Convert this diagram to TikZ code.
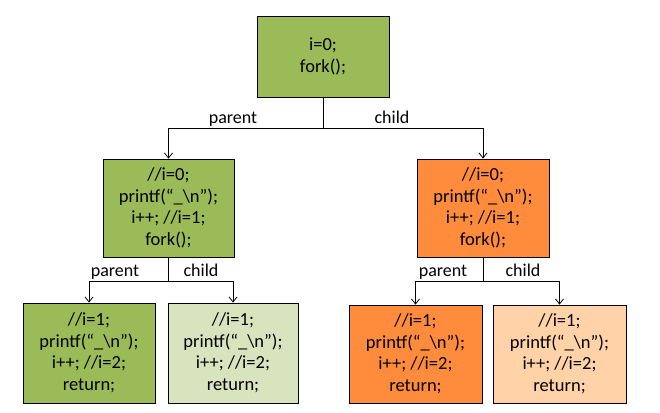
\documentclass[tikz,border=0pt]{standalone}
\usepackage{fontspec}
\setmainfont{Carlito}
\usetikzlibrary{arrows.meta}
\definecolor{grn}{HTML}{9BBB59}
\definecolor{lgrn}{HTML}{D7E4BD}
\definecolor{org}{HTML}{FF8C3C}
\definecolor{lorg}{HTML}{FFD2A8}
\tikzset{
  box/.style={draw=black, line width=0.8pt, rectangle, align=center,
    font=\fontsize{18.5}{21.5}\selectfont, inner sep=0pt},
  arr/.style={draw=black, line width=0.8pt, -{Straight Barb[length=5pt,width=8pt]}},
  lbl/.style={font=\fontsize{18}{20}\selectfont, inner sep=0pt, anchor=base}
}
\newcommand{\prn}{printf(“\_\textbackslash n”);}
\begin{document}
\begin{tikzpicture}[x=1pt,y=-1pt]
\useasboundingbox[fill=white] (0,0) rectangle (660,412);
% process boxes
\node[box, fill=grn, minimum width=132pt, minimum height=81pt] (top) at (323,56.5) {i=0;\\fork();};
\node[box, fill=grn, minimum width=131pt, minimum height=98pt] (ml) at (168.5,208) {//i=0;\\\prn\\i++; //i=1;\\fork();};
\node[box, fill=org, minimum width=132pt, minimum height=98pt] (mr) at (483,208) {//i=0;\\\prn\\i++; //i=1;\\fork();};
\node[box, fill=grn, minimum width=132pt, minimum height=100pt] (b1) at (89,353) {//i=1;\\\prn\\i++; //i=2;\\return;};
\node[box, fill=lgrn, minimum width=130pt, minimum height=100pt] (b2) at (233,353) {//i=1;\\\prn\\i++; //i=2;\\return;};
\node[box, fill=org, minimum width=133pt, minimum height=98pt] (b3) at (415.5,354) {//i=1;\\\prn\\i++; //i=2;\\return;};
\node[box, fill=lorg, minimum width=133pt, minimum height=98pt] (b4) at (559.5,354) {//i=1;\\\prn\\i++; //i=2;\\return;};
% fork branches
\coordinate (s1) at (323,128);
\coordinate (s2) at (168.5,281);
\coordinate (s3) at (483,281);
\draw[arr] (top.south) -- (s1) -| (ml.north);
\draw[arr] (s1) -| (mr.north);
\draw[arr] (ml.south) -- (s2) -| (b1.north);
\draw[arr] (s2) -| (b2.north);
\draw[arr] (mr.south) -- (s3) -| (b3.north);
\draw[arr] (s3) -| (b4.north);
% branch labels
\node[lbl] (l1) at (233,123) {parent};
\node[lbl] (l2) at (392,123) {child};
\node[lbl] (l3) at (115,276.5) {parent};
\node[lbl] (l4) at (201,276.5) {child};
\node[lbl] (l5) at (443,276.5) {parent};
\node[lbl] (l6) at (523,276.5) {child};
\end{tikzpicture}
\end{document}
